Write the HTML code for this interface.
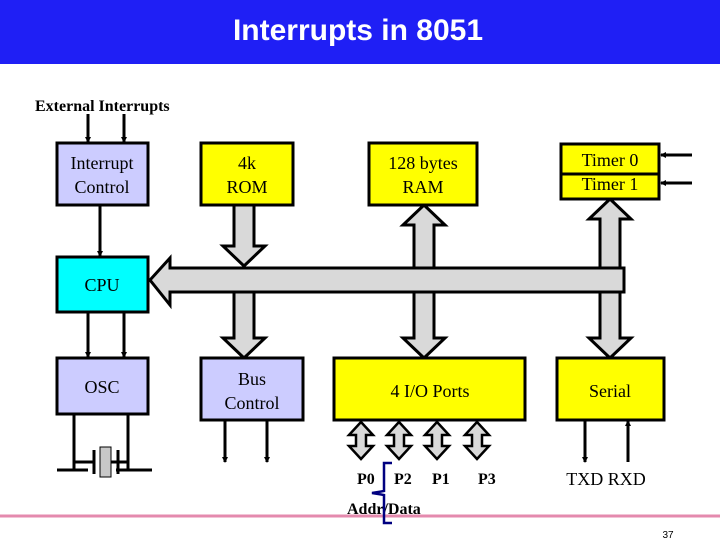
<!DOCTYPE html>
<html><head><style>
body{margin:0;width:720px;height:540px;background:#fff;overflow:hidden}
svg{display:block}
</style></head><body>
<svg width="720" height="540" xmlns="http://www.w3.org/2000/svg" font-family="Liberation Serif, serif">
<defs>
<marker id="a" markerWidth="6" markerHeight="6" refX="5" refY="3" orient="auto" markerUnits="userSpaceOnUse"><path d="M0,0 L6,3 L0,6 z" fill="#000"/></marker>
</defs>
<rect x="0" y="0" width="720" height="64" fill="#1f1ff5"/>
<text x="358" y="40" font-family="Liberation Sans, sans-serif" font-weight="bold" font-size="30" fill="#fff" text-anchor="middle">Interrupts in 8051</text>

<text x="35" y="111" font-size="16" font-weight="bold">External Interrupts</text>

<g stroke="#000" stroke-width="3" fill="none">
<line x1="88" y1="114" x2="88" y2="142" marker-end="url(#a)"/><line x1="124" y1="114" x2="124" y2="142" marker-end="url(#a)"/>
<line x1="100" y1="205" x2="100" y2="256" marker-end="url(#a)"/>
<line x1="88" y1="312" x2="88" y2="357" marker-end="url(#a)"/><line x1="124" y1="312" x2="124" y2="357" marker-end="url(#a)"/>
<line x1="74" y1="414" x2="74" y2="470"/><line x1="128" y1="414" x2="128" y2="470"/>
<line x1="57" y1="470" x2="88" y2="470"/><line x1="116" y1="470" x2="152" y2="470"/>
<line x1="74" y1="462" x2="94" y2="462"/><line x1="110" y1="462" x2="128" y2="462"/>
<line x1="94" y1="450" x2="94" y2="474"/><line x1="118" y1="450" x2="118" y2="474"/>
<line x1="225" y1="420" x2="225" y2="462" marker-end="url(#a)"/><line x1="267" y1="420" x2="267" y2="462" marker-end="url(#a)"/>
<line x1="585" y1="420" x2="585" y2="462" marker-end="url(#a)"/><line x1="628" y1="462" x2="628" y2="421" marker-end="url(#a)"/>
<line x1="692" y1="155" x2="661" y2="155" marker-end="url(#a)"/><line x1="692" y1="183" x2="661" y2="183" marker-end="url(#a)"/>
</g>
<rect x="100" y="447" width="11" height="30" fill="#c8c8c8" stroke="#000" stroke-width="1"/>

<g fill="#d9d9d9" stroke="#000" stroke-width="3">
<polygon points="234,205 254,205 254,246 265,246 244,266 223,246 234,246"/>
<polygon points="234,292 254,292 254,338 265,338 244,358 223,338 234,338"/>
<polygon points="414,268 434,268 434,225 445,225 424,205 403,225 414,225"/>
<polygon points="414,292 434,292 434,338 445,338 424,358 403,338 414,338"/>
<polygon points="600,268 620,268 620,219 631,219 610,199 589,219 600,219"/>
<polygon points="600,292 620,292 620,338 631,338 610,358 589,338 600,338"/>
<polygon points="624,268 624,292 170,292 170,305 150,280 170,258 170,268"/>
</g>

<g fill="#d9d9d9" stroke="#000" stroke-width="2.5">
<polygon points="361,422 373,435 366,435 366,446 373,446 361,459 349,446 356,446 356,435 349,435"/>
<polygon points="399,422 411,435 404,435 404,446 411,446 399,459 387,446 394,446 394,435 387,435"/>
<polygon points="437,422 449,435 442,435 442,446 449,446 437,459 425,446 432,446 432,435 425,435"/>
<polygon points="477,422 489,435 482,435 482,446 489,446 477,459 465,446 472,446 472,435 465,435"/>
</g>

<g stroke="#000" stroke-width="3">
<rect x="57" y="143" width="91" height="62" fill="#ccccff"/>
<rect x="201" y="143" width="92" height="62" fill="#ffff00"/>
<rect x="369" y="143" width="108" height="62" fill="#ffff00"/>
<rect x="561" y="144" width="98" height="55" fill="#ffff00"/>
<line x1="561" y1="174" x2="659" y2="174"/>
<rect x="57" y="257" width="91" height="55" fill="#00ffff"/>
<rect x="57" y="358" width="91" height="56" fill="#ccccff"/>
<rect x="201" y="358" width="102" height="62" fill="#ccccff"/>
<rect x="334" y="358" width="191" height="62" fill="#ffff00"/>
<rect x="557" y="358" width="107" height="62" fill="#ffff00"/>
</g>

<g font-size="18" text-anchor="middle" fill="#000">
<text x="102" y="169">Interrupt</text><text x="102" y="193">Control</text>
<text x="247" y="169">4k</text><text x="247" y="193">ROM</text>
<text x="423" y="169">128 bytes</text><text x="423" y="193">RAM</text>
<text x="610" y="166">Timer 0</text><text x="610" y="190">Timer 1</text>
<text x="102" y="291">CPU</text>
<text x="102" y="393">OSC</text>
<text x="252" y="385">Bus</text><text x="252" y="409">Control</text>
<text x="430" y="397">4 I/O Ports</text>
<text x="610" y="397">Serial</text>
<text x="606" y="485">TXD  RXD</text>
</g>
<g font-size="16" font-weight="bold">
<text x="357" y="484">P0</text><text x="394" y="484">P2</text><text x="432" y="484">P1</text><text x="478" y="484">P3</text>
<text x="347" y="514">Addr/Data</text>
</g>
<line x1="0" y1="516" x2="720" y2="516" stroke="#e48aae" stroke-width="3"/>
<path d="M392,463 L384,463 L384,491 L372,493 L384,495 L384,523 L392,523" fill="none" stroke="#000080" stroke-width="2.5"/>
<text x="668" y="538" font-family="Liberation Sans, sans-serif" font-size="10" text-anchor="middle">37</text>
</svg>
</body></html>
